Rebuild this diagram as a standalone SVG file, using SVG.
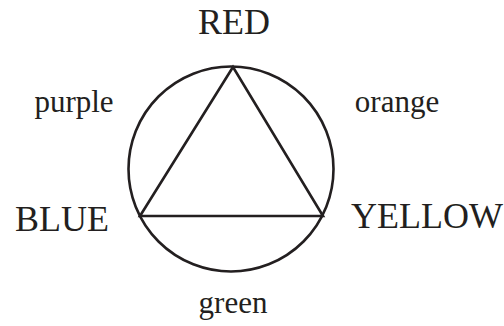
<svg xmlns="http://www.w3.org/2000/svg" width="504" height="326" viewBox="0 0 504 326">
<style>
.ln{fill:none;stroke:#231f20;stroke-width:2.6;stroke-linejoin:miter}
.t{font-family:"Liberation Serif","Times New Roman",serif;fill:#231f20;text-anchor:middle}
.big{font-size:36px}
.sm{font-size:31px}
</style>
<rect width="504" height="326" fill="#fff"/>
<g id="connectors">
<circle class="ln" cx="231" cy="169" r="102.5"/>
<polygon class="ln" points="233,67 140,216 323,216"/>
</g>
<g id="red"><text class="t big" x="234" y="34">RED</text></g>
<g id="blue"><text class="t big" x="62" y="231">BLUE</text></g>
<g id="yellow"><text class="t big" x="427" y="228">YELLOW</text></g>
<g id="purple"><text class="t sm" x="74" y="112">purple</text></g>
<g id="orange"><text class="t sm" x="397" y="112">orange</text></g>
<g id="green"><text class="t sm" x="233" y="313">green</text></g>
</svg>
